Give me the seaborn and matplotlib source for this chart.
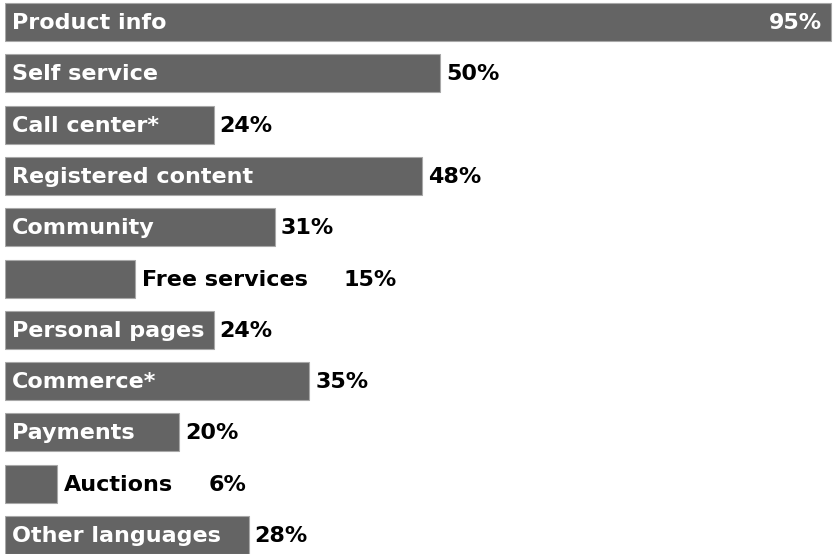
import matplotlib
matplotlib.use("Agg")
import matplotlib.pyplot as plt
import seaborn as sns
import pandas as pd
from matplotlib.transforms import offset_copy

categories = ["Product info", "Self service", "Call center*", "Registered content",
              "Community", "Free services", "Personal pages", "Commerce*",
              "Payments", "Auctions", "Other languages"]
values = [95, 50, 24, 48, 31, 15, 24, 35, 20, 6, 28]

sns.set_theme(style="white")
plt.rcParams["font.family"] = ["DejaVu Sans"]

df = pd.DataFrame({"category": categories, "value": values})

W, H = 834, 554
fig = plt.figure(figsize=(W / 100, H / 100), dpi=100)
ax = fig.add_axes([5 / W, 0, 828 / W, 1])

BAR = "#646464"
sns.barplot(data=df, x="value", y="category", orient="h", color=BAR,
            saturation=1, width=0.74, edgecolor="#a8a8a8", linewidth=0.8, ax=ax)

ax.set_xlim(0, max(values) + 0.2)
ax.set_ylim(len(categories) - 1 + 0.37, -0.43)
ax.axis("off")

fs = 16
txt = dict(fontsize=fs, fontweight="bold", va="center")
fig.canvas.draw()
renderer = fig.canvas.get_renderer()

for i, (name, v) in enumerate(zip(categories, values)):
    bar_px = ax.transData.transform((v, i))[0]
    # try the name inside the bar first
    t = ax.text(0, i, name, color="white",
                transform=offset_copy(ax.transData, fig, x=7, y=-1, units="dots"), **txt)
    ext = t.get_window_extent(renderer)
    pct = f"{v}%"
    if ext.x1 + 6 <= bar_px:
        if v == max(values):
            ax.text(v, i, pct, color="white", ha="right",
                    transform=offset_copy(ax.transData, fig, x=-9, y=-1, units="dots"), **txt)
        else:
            ax.text(v, i, pct, color="black", ha="left",
                    transform=offset_copy(ax.transData, fig, x=6, y=-1, units="dots"), **txt)
    else:
        t.remove()
        t = ax.text(v, i, name, color="black",
                    transform=offset_copy(ax.transData, fig, x=7, y=-1, units="dots"), **txt)
        ext = t.get_window_extent(renderer)
        shift = ext.x1 + 35 - bar_px
        ax.text(v, i, pct, color="black",
                transform=offset_copy(ax.transData, fig, x=shift, y=-1, units="dots"), **txt)

fig.savefig("out.png", dpi=100)
